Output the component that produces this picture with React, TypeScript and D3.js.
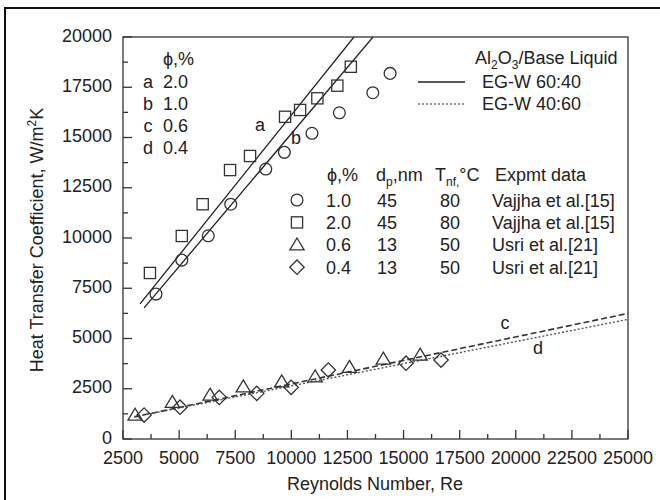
import React from "react";
import * as d3 from "d3";

// ---- data ----
const circleRe = [3970, 5120, 6300, 7300, 8860, 9690, 10920, 12140, 13630, 14400];
const circleH = [7210, 8900, 10110, 11680, 13430, 14260, 15210, 16230, 17230, 18190];
const squareRe = [3700, 5120, 6050, 7270, 8160, 9720, 10390, 11160, 12050, 12650];
const squareH = [8260, 10100, 11680, 13380, 14080, 16030, 16370, 16950, 17580, 18520];
const triRe = [3040, 4700, 6380, 7860, 9570, 11060, 12590, 14100, 15740];
const triH = [1190, 1830, 2190, 2600, 2850, 3100, 3570, 3980, 4180];
const diaRe = [3440, 5040, 6790, 8460, 9990, 11650, 15110, 16670];
const diaH = [1190, 1580, 2070, 2270, 2570, 3430, 3770, 3930];

const lineARe = [3260, 12790];
const lineAH = [6720, 20000];
const lineBRe = [3440, 13640];
const lineBH = [6520, 20000];
const lineCRe = [3000, 25000];
const lineCH = [1100, 6250];
const lineDRe = [3000, 25000];
const lineDH = [1100, 5950];

const xTicks = [2500, 5000, 7500, 10000, 12500, 15000, 17500, 20000, 22500, 25000];
const yTicks = [0, 2500, 5000, 7500, 10000, 12500, 15000, 17500, 20000];

const phiLegendLetters = ["a", "b", "c", "d"];
const phiLegendValues = ["2.0", "1.0", "0.6", "0.4"];

const dataLegendPhi = ["1.0", "2.0", "0.6", "0.4"];
const dataLegendDp = ["45", "45", "13", "13"];
const dataLegendT = ["80", "80", "50", "50"];
const dataLegendSrc = ["Vajjha et al.[15]", "Vajjha et al.[15]", "Usri et al.[21]", "Usri et al.[21]"];
const dataLegendShape = ["circle", "square", "triangle", "diamond"];

const FONT = "'Liberation Sans', Arial, sans-serif";
const INK = "#222";
const MARK = "#333";
const FS = 18;
const FSS = 12;

const left = 123, right = 628, top = 37, bottom = 439;
const x = d3.scaleLinear().domain([2500, 25000]).range([left, right]);
const y = d3.scaleLinear().domain([0, 20000]).range([bottom, top]);

function Marker({ shape, cx, cy }: { shape: string; cx: number; cy: number }) {
  const common = { fill: "none", stroke: MARK, strokeWidth: 1.3 };
  if (shape === "circle") return <circle cx={cx} cy={cy} r={5.9} {...common} />;
  if (shape === "square") return <rect x={cx - 5.6} y={cy - 5.6} width={11.2} height={11.2} {...common} />;
  if (shape === "triangle") {
    const s = 6.8;
    return <path d={`M${cx},${cy - s}L${cx + s * 1.05},${cy + s * 0.75}L${cx - s * 1.05},${cy + s * 0.75}Z`} {...common} />;
  }
  const s = 7.2;
  return <path d={`M${cx},${cy - s}L${cx + s},${cy}L${cx},${cy + s}L${cx - s},${cy}Z`} {...common} />;
}

export default function App() {
  const line = d3
    .line<[number, number]>()
    .x((d) => x(d[0]))
    .y((d) => y(d[1]));
  const pairs = (a: number[], b: number[]) => a.map((v, i) => [v, b[i]] as [number, number]);

  const minorX = d3.range(2500 + 1250, 25000, 2500);
  const minorY = d3.range(1250, 20000, 2500);

  return (
    <div style={{ position: "fixed", left: 0, top: 0 }}>
      <svg width={660} height={500} style={{ display: "block", background: "#fff" }} fontFamily={FONT}>
        <defs>
          <clipPath id="plotclip">
            <rect x={left} y={top} width={right - left} height={bottom - top} />
          </clipPath>
        </defs>
        {/* outer frame */}
        <rect x={5} y={8} width={700} height={600} fill="none" stroke="#111" strokeWidth={2} />

        {/* plot frame */}
        <rect x={left} y={top} width={right - left} height={bottom - top} fill="none" stroke="#333" strokeWidth={1.3} />

        {/* x ticks */}
        {xTicks.map((t) => (
          <g key={"xt" + t}>
            <line x1={x(t)} x2={x(t)} y1={bottom} y2={bottom - 9} stroke="#333" strokeWidth={1.3} />
            <text x={x(t)} y={464} textAnchor="middle" fontSize={FS} fill={INK}>
              {t}
            </text>
          </g>
        ))}
        {minorX.map((t) => (
          <line key={"xm" + t} x1={x(t)} x2={x(t)} y1={bottom} y2={bottom - 5} stroke="#333" strokeWidth={1.3} />
        ))}
        {/* y ticks */}
        {yTicks.map((t) => (
          <g key={"yt" + t}>
            <line x1={left} x2={left + 9} y1={y(t)} y2={y(t)} stroke="#333" strokeWidth={1.3} />
            <text x={112} y={y(t)} dy="0.25em" textAnchor="end" fontSize={FS} fill={INK}>
              {t}
            </text>
          </g>
        ))}
        {minorY.map((t) => (
          <line key={"ym" + t} x1={left} x2={left + 5} y1={y(t)} y2={y(t)} stroke="#333" strokeWidth={1.3} />
        ))}

        {/* axis titles */}
        <text x={375} y={490} textAnchor="middle" fontSize={FS} fill={INK}>
          Reynolds Number, Re
        </text>
        <text transform="translate(43,240) rotate(-90)" textAnchor="middle" fontSize={FS} fill={INK}>
          Heat Transfer Coefficient, W/m
          <tspan dy={-7} fontSize={FSS}>2</tspan>
          <tspan dy={7}>K</tspan>
        </text>

        {/* lines */}
        <g clipPath="url(#plotclip)" fill="none">
          <path d={line(pairs(lineARe, lineAH)) || ""} stroke="#222" strokeWidth={1.3} />
          <path d={line(pairs(lineBRe, lineBH)) || ""} stroke="#222" strokeWidth={1.3} />
          <path d={line(pairs(lineCRe, lineCH)) || ""} stroke="#333" strokeWidth={1.6} strokeDasharray="6,3" />
          <path d={line(pairs(lineDRe, lineDH)) || ""} stroke="#555" strokeWidth={1.4} strokeDasharray="2,2" />
        </g>

        {/* markers */}
        {circleRe.map((r, i) => (
          <Marker key={"c" + i} shape="circle" cx={x(r)} cy={y(circleH[i])} />
        ))}
        {squareRe.map((r, i) => (
          <Marker key={"s" + i} shape="square" cx={x(r)} cy={y(squareH[i])} />
        ))}
        {triRe.map((r, i) => (
          <Marker key={"t" + i} shape="triangle" cx={x(r)} cy={y(triH[i])} />
        ))}
        {diaRe.map((r, i) => (
          <Marker key={"d" + i} shape="diamond" cx={x(r)} cy={y(diaH[i])} />
        ))}

        {/* line labels */}
        <text x={260} y={131} textAnchor="middle" fontSize={FS} fill={INK}>a</text>
        <text x={296} y={144} textAnchor="middle" fontSize={FS} fill={INK}>b</text>
        <text x={505} y={329} textAnchor="middle" fontSize={FS} fill={INK}>c</text>
        <text x={538} y={354} textAnchor="middle" fontSize={FS} fill={INK}>d</text>

        {/* phi legend (top-left) */}
        <text x={163} y={65} fontSize={FS} fill={INK}>ϕ,%</text>
        {phiLegendLetters.map((l, i) => (
          <g key={"pl" + i}>
            <text x={148} y={88 + i * 22} textAnchor="middle" fontSize={FS} fill={INK}>{l}</text>
            <text x={163} y={88 + i * 22} fontSize={FS} fill={INK}>{phiLegendValues[i]}</text>
          </g>
        ))}

        {/* base liquid legend (top-right) */}
        <text x={475} y={64} fontSize={FS} fill={INK}>
          Al<tspan dy={5} fontSize={FSS}>2</tspan>
          <tspan dy={-5}>O</tspan>
          <tspan dy={5} fontSize={FSS}>3</tspan>
          <tspan dy={-5}>/Base Liquid</tspan>
        </text>
        <line x1={418} x2={465} y1={82} y2={82} stroke="#222" strokeWidth={1.3} />
        <text x={482} y={88} fontSize={FS} fill={INK}>EG-W 60:40</text>
        <line x1={418} x2={465} y1={104} y2={104} stroke="#777" strokeWidth={1.3} strokeDasharray="2,2" />
        <text x={482} y={110} fontSize={FS} fill={INK}>EG-W 40:60</text>

        {/* data legend */}
        <text x={327} y={181} fontSize={FS} fill={INK}>ϕ,%</text>
        <text x={376} y={181} fontSize={FS} fill={INK}>
          d<tspan dy={5} fontSize={FSS}>p</tspan>
          <tspan dy={-5}>,nm</tspan>
        </text>
        <text x={435} y={181} fontSize={FS} fill={INK}>
          T<tspan dy={5} fontSize={FSS}>nf,</tspan>
          <tspan dy={-5}>°C</tspan>
        </text>
        <text x={495} y={181} fontSize={FS} fill={INK}>Expmt data</text>
        {dataLegendShape.map((s, i) => {
          const cy = 200 + i * 22.4;
          return (
            <g key={"dl" + i}>
              <Marker shape={s} cx={297} cy={cy} />
              <text x={326} y={cy + 6.5} fontSize={FS} fill={INK}>{dataLegendPhi[i]}</text>
              <text x={377} y={cy + 6.5} fontSize={FS} fill={INK}>{dataLegendDp[i]}</text>
              <text x={440} y={cy + 6.5} fontSize={FS} fill={INK}>{dataLegendT[i]}</text>
              <text x={492} y={cy + 6.5} fontSize={FS} fill={INK}>{dataLegendSrc[i]}</text>
            </g>
          );
        })}
      </svg>
    </div>
  );
}
